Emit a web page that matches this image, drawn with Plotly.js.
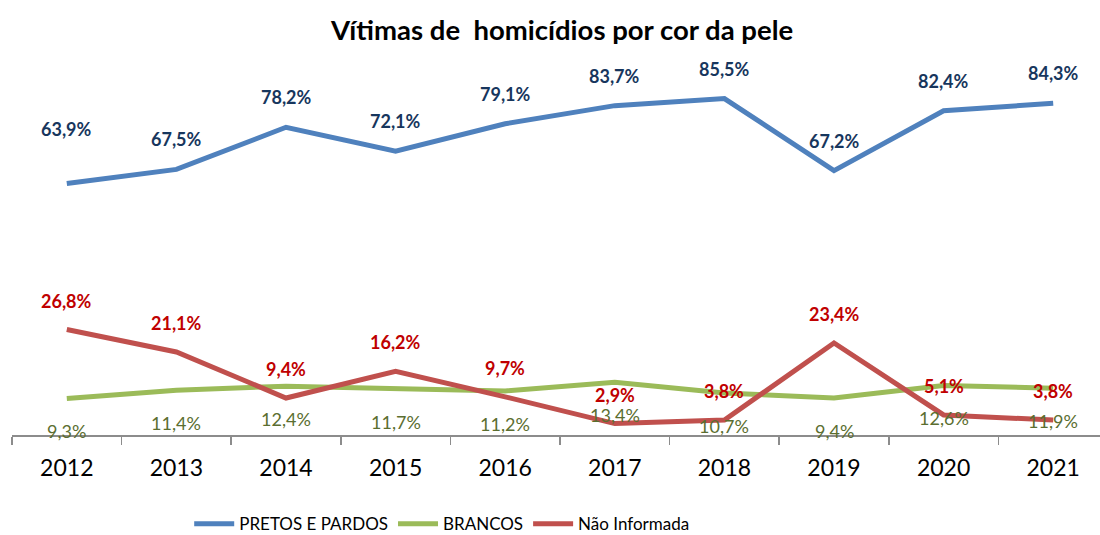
<!DOCTYPE html>
<html>
<head>
<meta charset="utf-8">
<script src="https://cdn.plot.ly/plotly-3.0.1.min.js"></script>
<style>html,body{margin:0;padding:0;background:#fff;}#chart{width:1100px;height:535px;}</style>
</head>
<body>
<div id="chart"></div>
<script>
var years = ['2012','2013','2014','2015','2016','2017','2018','2019','2020','2021'];
var pretosPardos = [63.9, 67.5, 78.2, 72.1, 79.1, 83.7, 85.5, 67.2, 82.4, 84.3];
var brancos = [9.3, 11.4, 12.4, 11.7, 11.2, 13.4, 10.7, 9.4, 12.6, 11.9];
var naoInformada = [26.8, 21.1, 9.4, 16.2, 9.7, 2.9, 3.8, 23.4, 5.1, 3.8];
var seriesNames = ['PRETOS E PARDOS', 'BRANCOS', 'Não Informada'];

var FONT = 'Lato, "Open Sans", sans-serif';
function fmt(v){ return v.toFixed(1).replace('.', ',') + '%'; }

var traces = [
  {x: years, y: pretosPardos, name: seriesNames[0], mode: 'lines', line: {color: '#4F81BD', width: 5}},
  {x: years, y: brancos, name: seriesNames[1], mode: 'lines', line: {color: '#9BBB59', width: 5}},
  {x: years, y: naoInformada, name: seriesNames[2], mode: 'lines', line: {color: '#C0504D', width: 5}}
];

var annotations = [];
for (var i = 0; i < years.length; i++) {
  annotations.push({xref: 'x', yref: 'y', x: i, y: pretosPardos[i], text: '<b>' + fmt(pretosPardos[i]) + '</b>', showarrow: false,
    yshift: i === 0 ? 55 : 30, font: {family: FONT, size: 18, color: '#17365D'}});
  annotations.push({xref: 'x', yref: 'y', x: i, y: naoInformada[i], text: '<b>' + fmt(naoInformada[i]) + '</b>', showarrow: false,
    yshift: 29, font: {family: FONT, size: 18, color: '#C00000'}});
  annotations.push({xref: 'x', yref: 'y', x: i, y: brancos[i], text: fmt(brancos[i]), showarrow: false,
    yshift: -33, font: {family: FONT, size: 18, color: '#5B6E30'}});
}

var layout = {
  width: 1100, height: 535,
  margin: {l: 12, r: 0, t: 60, b: 100},
  paper_bgcolor: '#ffffff', plot_bgcolor: '#ffffff',
  title: {text: '<b>Vítimas de&nbsp; homicídios por cor da pele</b>', xref: 'container', x: 0.511, xanchor: 'center',
    yref: 'container', y: 0.944, yanchor: 'middle',
    font: {family: FONT, size: 27.5, color: '#000000'}},
  xaxis: {type: 'category', range: [-0.5, 9.427], showgrid: false, zeroline: false,
    showline: true, linecolor: '#8C8C8C', linewidth: 1.5,
    ticks: 'outside', tickson: 'boundaries', ticklen: 8, tickcolor: '#8C8C8C', tickwidth: 1.5,
    tickfont: {family: FONT, size: 23, color: '#000000'}, ticklabelstandoff: 12},
  yaxis: {range: [0, 95.3], visible: false, showgrid: false, zeroline: false},
  showlegend: true,
  legend: {orientation: 'h', xref: 'container', x: 0.172, xanchor: 'left', yref: 'container', y: 0.02, yanchor: 'middle',
    font: {family: FONT, size: 17, color: '#000000'}, itemwidth: 40, tracegroupgap: 0},
  annotations: annotations
};

Plotly.newPlot('chart', traces, layout, {displayModeBar: false, staticPlot: true});
</script>
</body>
</html>
